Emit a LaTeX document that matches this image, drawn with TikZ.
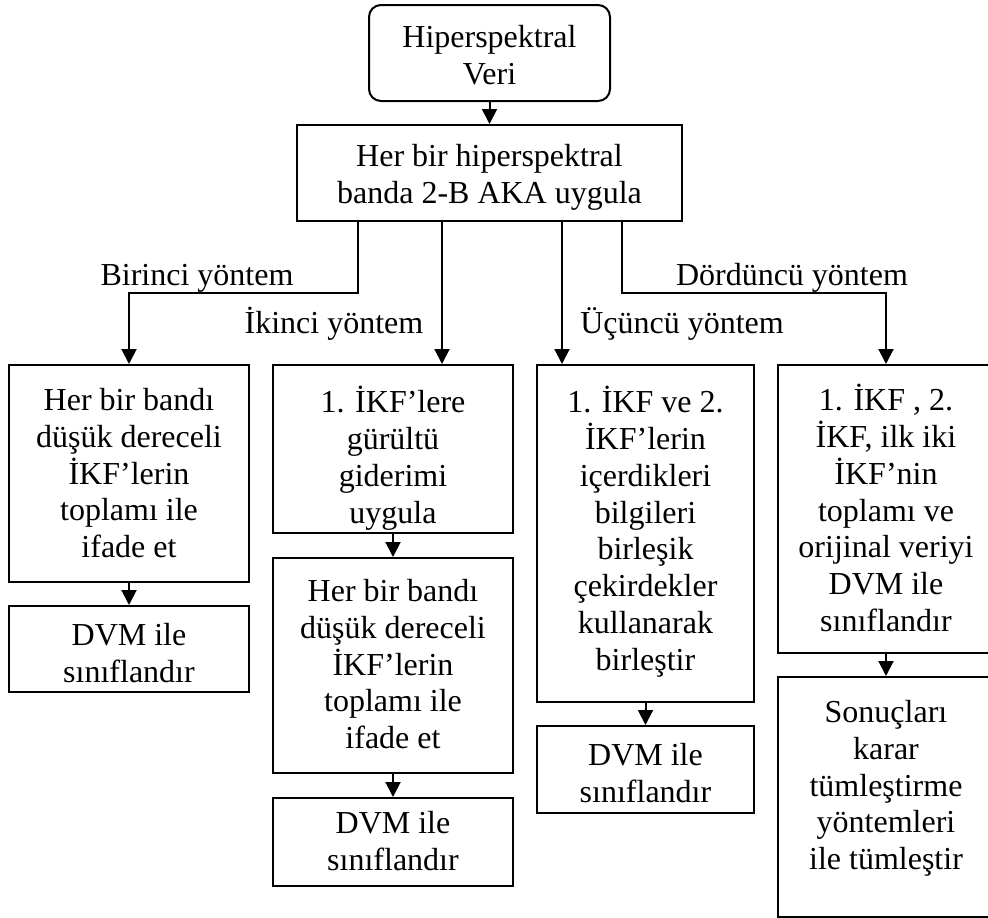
\documentclass[tikz,border=0pt]{standalone}
\usepackage{fontspec}
\setmainfont{Liberation Serif}
\usetikzlibrary{arrows.meta}

\begin{document}
\begin{tikzpicture}[x=1pt,y=-1pt,
  kutu/.style={draw,line width=2pt,inner sep=0pt},
  metin/.style={align=center,inner sep=0pt,font=\fontsize{32}{36.8}\selectfont},
  ustmetin/.style={metin,anchor=north,execute at begin node={\rule{0pt}{30pt}}},
  ok/.style={line width=2pt,-{Triangle[width=15pt,length=15pt]}}]
 \useasboundingbox (0,0) rectangle (988,918);
 % kutular
 \node[kutu,rounded corners=12pt,minimum width=241pt,minimum height=96pt] (ust) at (489.5,53) {};
 \node[kutu,minimum width=385pt,minimum height=96pt] (aka) at (489.5,173) {};
 \node[kutu,minimum width=240pt,minimum height=217pt] (c1a) at (129,473.5) {};
 \node[kutu,minimum width=240pt,minimum height=86pt] (c1b) at (129,649) {};
 \node[kutu,minimum width=240pt,minimum height=168pt] (c2a) at (393,449) {};
 \node[kutu,minimum width=240pt,minimum height=215pt] (c2b) at (393,665.5) {};
 \node[kutu,minimum width=240pt,minimum height=88pt] (c2c) at (393,842) {};
 \node[kutu,minimum width=217pt,minimum height=337pt] (c3a) at (645.5,533.5) {};
 \node[kutu,minimum width=217pt,minimum height=87pt] (c3b) at (645.5,769.5) {};
 \node[kutu,minimum width=216pt,minimum height=288pt] (c4a) at (886,509) {};
 \node[kutu,minimum width=216pt,minimum height=240pt] (c4b) at (886,797) {};
 % metinler
 \node[ustmetin] (ustt) at ([yshift=-21pt]ust.north) {Hiperspektral\\Veri};
 \node[ustmetin] (akat) at ([yshift=-20pt]aka.north) {Her bir hiperspektral\\banda 2-B AKA uygula};
 \node[ustmetin] (c1at) at ([yshift=-24pt]c1a.north) {Her bir bandı\\düşük dereceli\\İKF’lerin\\toplamı ile\\ifade et};
 \node[ustmetin] (c1bt) at ([yshift=-18pt]c1b.north) {DVM ile\\sınıflandır};
 \node[ustmetin] (c2at) at ([yshift=-22pt]c2a.north) {1. İKF’lere\\gürültü\\giderimi\\uygula};
 \node[ustmetin] (c2bt) at ([yshift=-22pt]c2b.north) {Her bir bandı\\düşük dereceli\\İKF’lerin\\toplamı ile\\ifade et};
 \node[ustmetin] (c2ct) at ([yshift=-14pt]c2c.north) {DVM ile\\sınıflandır};
 \node[ustmetin] (c3at) at ([yshift=-22pt]c3a.north) {1. İKF ve 2.\\İKF’lerin\\içerdikleri\\bilgileri\\birleşik\\çekirdekler\\kullanarak\\birleştir};
 \node[ustmetin] (c3bt) at ([yshift=-18pt]c3b.north) {DVM ile\\sınıflandır};
 \node[ustmetin] (c4at) at ([yshift=-20pt]c4a.north) {1. İKF , 2.\\İKF, ilk iki\\İKF’nin\\toplamı ve\\orijinal veriyi\\DVM ile\\sınıflandır};
 \node[ustmetin] (c4bt) at ([yshift=-24pt]c4b.north) {Sonuçları\\karar\\tümleştirme\\yöntemleri\\ile tümleştir};
 % yontem etiketleri
 \node[metin,anchor=base] (y1) at (197,285) {Birinci yöntem};
 \node[metin,anchor=base] (y2) at (334,333) {İkinci yöntem};
 \node[metin,anchor=base] (y3) at (682,333) {Üçüncü yöntem};
 \node[metin,anchor=base] (y4) at (792,285) {Dördüncü yöntem};
 % dallar
 \coordinate (d1) at (358,293);
 \coordinate (d2) at (442,293);
 \coordinate (d3) at (562,293);
 \coordinate (d4) at (622,293);
 \draw[ok] (ust.south) -- (aka.north);
 \draw[ok] (d1 |- aka.south) -- (d1) -| (c1a.north);
 \draw[ok] (d2 |- aka.south) -- (d2 |- c2a.north);
 \draw[ok] (d3 |- aka.south) -- (d3 |- c3a.north);
 \draw[ok] (d4 |- aka.south) -- (d4) -| (c4a.north);
 \draw[ok] (c1a.south) -- (c1b.north);
 \draw[ok] (c2a.south) -- (c2b.north);
 \draw[ok] (c2b.south) -- (c2c.north);
 \draw[ok] (c3a.south) -- (c3b.north);
 \draw[ok] (c4a.south) -- (c4b.north);
\end{tikzpicture}
\end{document}
